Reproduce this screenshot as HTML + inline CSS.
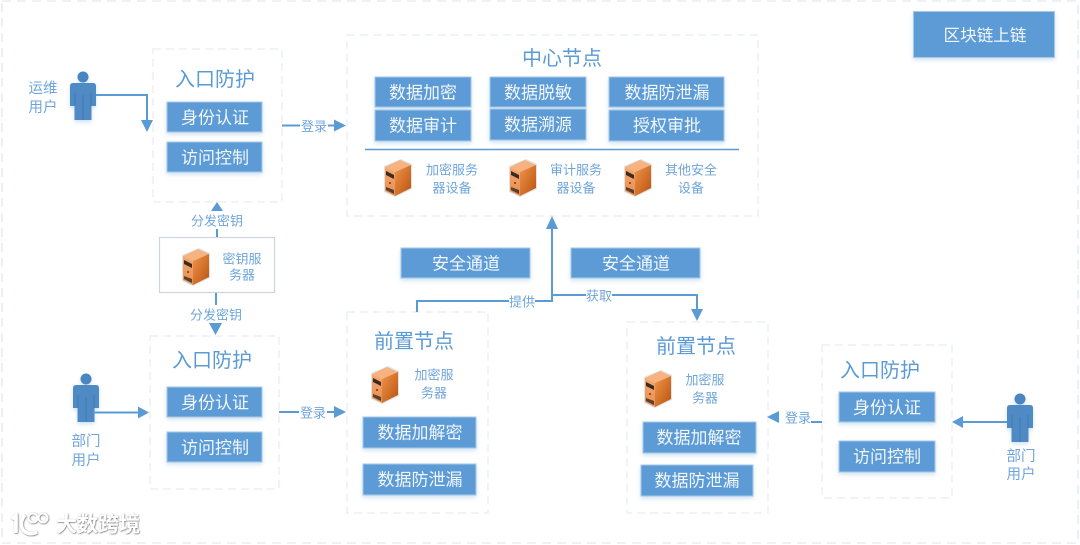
<!DOCTYPE html>
<html><head><meta charset="utf-8">
<style>
html,body{margin:0;padding:0;background:#fff;width:1080px;height:545px;overflow:hidden}
svg{display:block;filter:blur(.35px)}
text{font-family:"Liberation Sans","Noto Sans CJK SC",sans-serif;text-anchor:middle;dominant-baseline:central;transform:translateY(2px)}
.d{fill:#fff;stroke:#e6ecf3;stroke-width:1.2;stroke-dasharray:8 5}
.o{fill:#fff;stroke:#e8edf4;stroke-width:1.6;stroke-dasharray:9 6}
.b{fill:#5b9bd5;stroke:#a9c8e6;stroke-width:1;filter:url(#sh)}
.w{fill:#f2f7fc;font-size:17px}
.t{fill:#5b9bd5;font-size:20px}
.s{fill:#6fa5da;font-size:13px}
.l{fill:none;stroke:#5b9bd5;stroke-width:2}
.a{fill:#5b9bd5}
.bg{fill:#fff}
</style></head><body>
<svg width="1080" height="545" viewBox="0 0 1080 545" xmlns="http://www.w3.org/2000/svg">
<defs>
<filter id="sh" x="-10%" y="-20%" width="120%" height="150%"><feDropShadow dx="0" dy="2" stdDeviation="2" flood-color="#5b9bd5" flood-opacity=".3"/></filter>
<filter id="wm" x="-10%" y="-20%" width="125%" height="150%"><feDropShadow dx="0.500" dy="0.500" stdDeviation="0.800" flood-color="#555" flood-opacity="1"/></filter>
<filter id="ps" x="-20%" y="-10%" width="140%" height="125%"><feDropShadow dx="0" dy="2" stdDeviation="2" flood-color="#5b9bd5" flood-opacity=".3"/></filter>
<linearGradient id="o1" x1="0" y1="0" x2="1" y2="1"><stop offset="0" stop-color="#f0954a"/><stop offset="1" stop-color="#b9520f"/></linearGradient>
<linearGradient id="o2" x1="0" y1="0" x2="0" y2="1"><stop offset="0" stop-color="#f4a971"/><stop offset="1" stop-color="#e98d4e"/></linearGradient>
<symbol id="srv" viewBox="0 0 30 40" width="30" height="40">
<path d="M1 8 18 1 29 6V31L12 39 1 34Z" fill="#dfe3e6"/>
<path d="M2 9 17 2 28 7 12 14Z" fill="#f6b27f"/>
<path d="M12 14 28 7V30L12 38Z" fill="url(#o1)"/>
<path d="M2 9 12 14V38L2 33Z" fill="url(#o2)"/>
<path d="M3 13 11 17V21L3 17Z" fill="#3a2a20"/>
<path d="M3 29 11 32V36L3 32Z" fill="#5a4030"/>
<circle cx="7" cy="25" r="1" fill="#6b3a15"/>
</symbol>
<symbol id="usr" viewBox="0 0 26 49" width="26" height="49">
<circle cx="13" cy="6" r="5.500" fill="#4a86c0"/>
<path d="M3 12H23Q26 12 26 15V35H21.500V49H4.500V35H0V15Q0 12 3 12Z" fill="#4f8ac4"/>
<path d="M13 24V49M5 22V35M21 22V35" stroke="#3f76ad" stroke-width=".8" fill="none"/>
</symbol>
</defs>

<rect x="2" y="1" width="1076" height="542" class="o"/>

<!-- dashed containers -->
<rect x="153" y="49" width="129" height="153" class="d"/>
<rect x="347" y="35" width="411" height="181" class="d"/>
<rect x="150" y="336" width="129" height="153" class="d"/>
<rect x="347" y="312" width="141" height="201" class="d"/>
<rect x="627" y="322" width="141" height="191" class="d"/>
<rect x="822" y="345" width="130" height="153" class="d"/>

<!-- chain -->
<rect x="913.500" y="11.500" width="141" height="46" class="b"/>
<text x="985" y="33.500" class="w" style="font-size:16.600px">区块链上链</text>

<!-- entry 1 -->
<text x="215" y="78" class="t">入口防护</text>
<rect x="167" y="102" width="95" height="30" class="b"/><text x="215" y="116" class="w">身份认证</text>
<rect x="167" y="142" width="95" height="30" class="b"/><text x="215" y="156" class="w">访问控制</text>

<!-- center -->
<text x="562" y="57" class="t">中心节点</text>
<rect x="375" y="77" width="96" height="30" class="b"/><text x="423" y="91" class="w">数据加密</text>
<rect x="375" y="110" width="96" height="31" class="b"/><text x="423" y="124" class="w">数据审计</text>
<rect x="490" y="77" width="96" height="30" class="b"/><text x="538" y="91" class="w">数据脱敏</text>
<rect x="490" y="109" width="96" height="31" class="b"/><text x="538" y="123" class="w">数据溯源</text>
<rect x="609" y="77" width="115" height="30" class="b"/><text x="667" y="91" class="w">数据防泄漏</text>
<rect x="609" y="110" width="115" height="31" class="b"/><text x="667" y="124" class="w">授权审批</text>
<path d="M365 149.500H739" stroke="#5b9bd5" stroke-width="1.500"/>
<use href="#srv" x="383" y="158"/>
<use href="#srv" x="508" y="158"/>
<use href="#srv" x="623" y="158"/>
<text x="452" y="168" class="s">加密服务</text><text x="452" y="186" class="s">器设备</text>
<text x="576" y="168" class="s">审计服务</text><text x="576" y="186" class="s">器设备</text>
<text x="691" y="168" class="s">其他安全</text><text x="691" y="186" class="s">设备</text>

<!-- secure channels -->
<rect x="401" y="248" width="129" height="30" class="b"/><text x="466" y="262" class="w">安全通道</text>
<rect x="571" y="248" width="129" height="30" class="b"/><text x="636" y="262" class="w">安全通道</text>

<!-- entry 2 -->
<text x="212" y="359" class="t">入口防护</text>
<rect x="167" y="387" width="95" height="30" class="b"/><text x="215" y="401" class="w">身份认证</text>
<rect x="167" y="432" width="95" height="30" class="b"/><text x="215" y="446" class="w">访问控制</text>

<!-- front node 1 -->
<text x="414" y="340" class="t">前置节点</text>
<use href="#srv" x="370" y="365"/>
<text x="434" y="373" class="s">加密服</text><text x="434" y="391" class="s">务器</text>
<rect x="363" y="417" width="113" height="31" class="b"/><text x="420" y="431" class="w">数据加解密</text>
<rect x="363" y="464" width="113" height="31" class="b"/><text x="420" y="478" class="w">数据防泄漏</text>

<!-- front node 2 -->
<text x="696" y="345" class="t">前置节点</text>
<use href="#srv" x="643" y="369"/>
<text x="705" y="378" class="s">加密服</text><text x="705" y="396" class="s">务器</text>
<rect x="643" y="422" width="113" height="31" class="b"/><text x="699" y="436" class="w">数据加解密</text>
<rect x="641" y="465" width="112" height="31" class="b"/><text x="697" y="479" class="w">数据防泄漏</text>

<!-- entry 3 -->
<text x="880" y="369" class="t">入口防护</text>
<rect x="839" y="392" width="96" height="30" class="b"/><text x="887" y="406" class="w">身份认证</text>
<rect x="839" y="441" width="96" height="31" class="b"/><text x="887" y="455" class="w">访问控制</text>

<!-- key server -->
<rect x="159.500" y="237.500" width="115" height="55" fill="#fff" stroke="#ccd5dd" stroke-width="1.200"/>
<use href="#srv" x="181" y="247"/>
<text x="242" y="257" class="s">密钥服</text><text x="242" y="273" class="s">务器</text>

<!-- users -->
<g filter="url(#ps)"><use href="#usr" x="70" y="71"/></g>
<g filter="url(#ps)"><use href="#usr" x="73" y="373"/></g>
<g filter="url(#ps)"><use href="#usr" x="1007" y="393"/></g>
<text x="43" y="87" class="s" style="font-size:14.500px">运维</text><text x="43" y="106" class="s" style="font-size:14.500px">用户</text>
<text x="86" y="440" class="s" style="font-size:14.500px">部门</text><text x="86" y="459" class="s" style="font-size:14.500px">用户</text>
<text x="1021" y="455" class="s" style="font-size:14.500px">部门</text><text x="1021" y="473" class="s" style="font-size:14.500px">用户</text>

<!-- connectors -->
<path class="l" d="M96 95H147V121"/><path class="a" d="M141 120H153L147 132Z"/>
<path class="l" d="M93 412.500H139"/><path class="a" d="M138 406.500 149 412.500 138 418.500Z"/>
<path class="l" d="M1007 422H962"/><path class="a" d="M963 416 952 422 963 428Z"/>

<path class="l" d="M282 125.500H335"/><path class="a" d="M334 119.500 346 125.500 334 131.500Z"/>
<rect x="300" y="116" width="28" height="19" class="bg"/><text x="314" y="124.500" class="s">登录</text>

<path class="l" d="M279 412H335"/><path class="a" d="M334 406 346 412 334 418Z"/>
<rect x="299" y="403" width="28" height="18" class="bg"/><text x="313" y="411" class="s">登录</text>

<path class="l" d="M822 422H811"/><path class="a" d="M779 411 767 417 779 423Z"/>
<text x="798" y="416" class="s">登录</text>

<path class="l" d="M217 237V208"/><path class="a" d="M211 211H223L217 202Z"/>
<rect x="189" y="211" width="56" height="18" class="bg"/><text x="217" y="219" class="s">分发密钥</text>
<path class="l" d="M216 293V325"/><path class="a" d="M209 323H222L215.500 335Z"/>
<rect x="188" y="305" width="56" height="18" class="bg"/><text x="216" y="313" class="s">分发密钥</text>

<path class="l" d="M417 312V301H552V228"/><path class="a" d="M546 229H558L552 216Z"/>
<path class="l" d="M552 295H697V310"/><path class="a" d="M691 309H703L697 321Z"/>
<rect x="509" y="292" width="26" height="18" class="bg"/><text x="522" y="300" class="s">提供</text>
<rect x="586" y="286" width="26" height="18" class="bg"/><text x="599" y="294" class="s">获取</text>

<!-- watermark -->
<g filter="url(#wm)">
<path d="M12 519 16 516V533" fill="none" stroke="#fff" stroke-width="3.500"/>
<path d="M25 515Q18 524 24 531Q30 536 37 532" fill="none" stroke="#fff" stroke-width="3.500"/>
<circle cx="33" cy="518" r="4.500" fill="none" stroke="#fff" stroke-width="2"/>
<circle cx="43" cy="518" r="4.500" fill="none" stroke="#fff" stroke-width="2"/>
<text x="98" y="523" style="font-size:21px;font-weight:700;fill:#fff">大数跨境</text>
</g>
</svg>
</body></html>
